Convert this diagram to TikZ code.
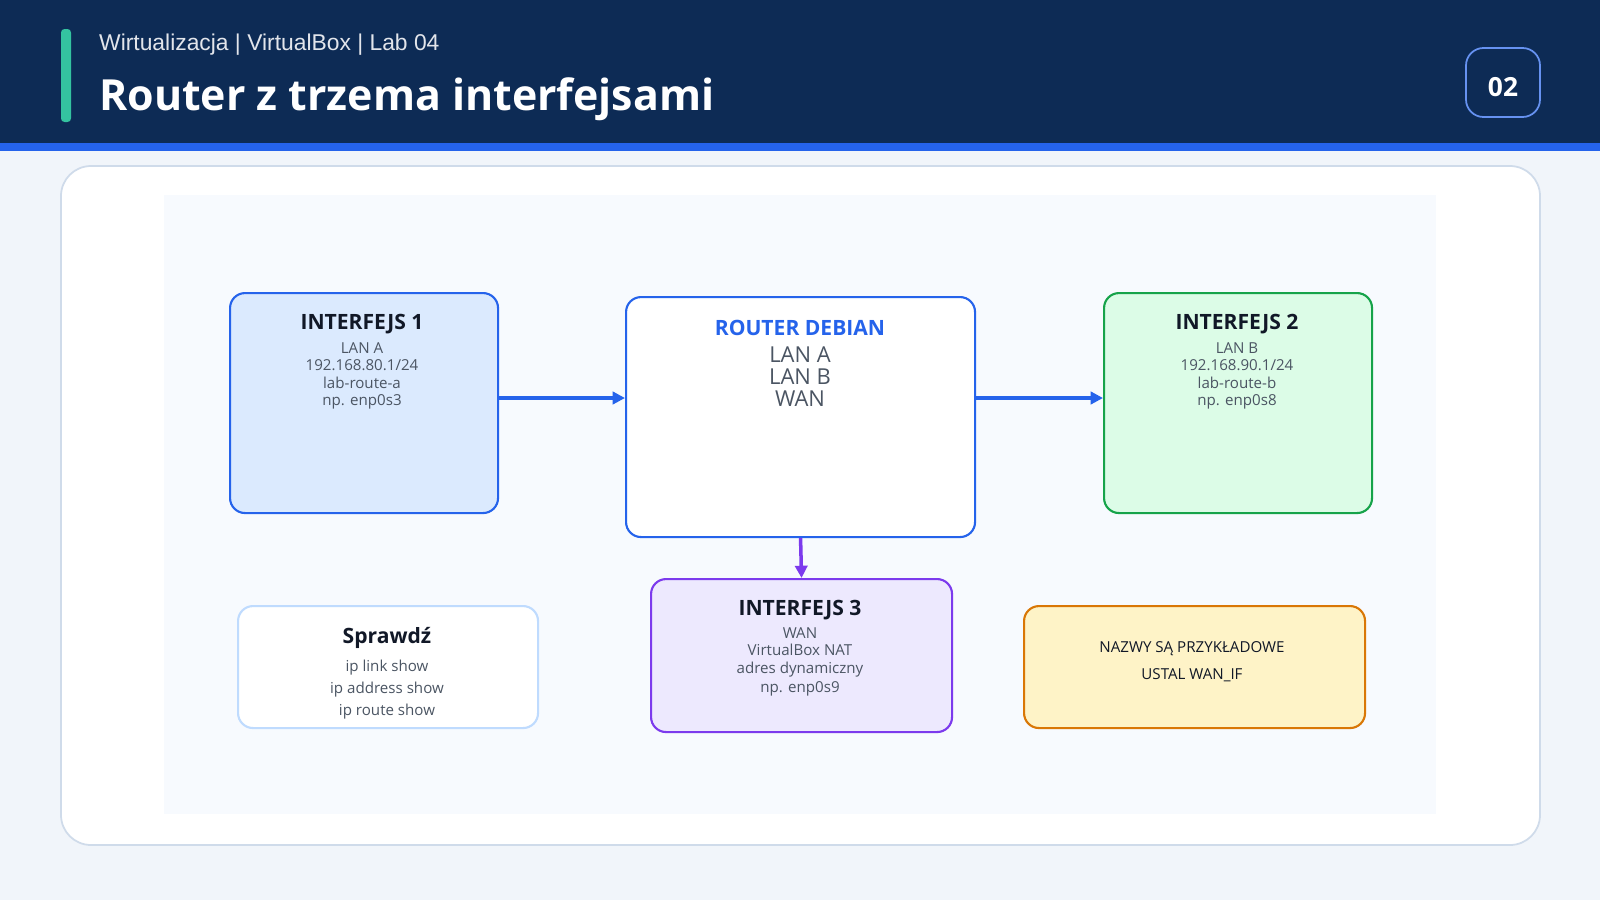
\documentclass[tikz,border=0pt]{standalone}
\usepackage{fontspec}
\setmainfont{Open Sans}
\newfontfamily\arialf{Liberation Sans}
\usetikzlibrary{arrows.meta}
\definecolor{navy}{HTML}{0D2B55}
\definecolor{bgc}{HTML}{F1F5FA}
\definecolor{blu}{HTML}{2563EB}
\definecolor{txt}{HTML}{111827}
\definecolor{gry}{HTML}{4B5563}
\definecolor{teal1}{HTML}{34C3A0}
\definecolor{cardb}{HTML}{CFDBEA}
\definecolor{panel}{HTML}{F7FAFE}
\definecolor{lblue}{HTML}{DBEAFE}
\definecolor{grn}{HTML}{16A34A}
\definecolor{lgrn}{HTML}{DCFCE7}
\definecolor{pur}{HTML}{7C3AED}
\definecolor{lpur}{HTML}{EDE9FE}
\definecolor{pblue}{HTML}{BFDBFE}
\definecolor{orn}{HTML}{D97706}
\definecolor{lyel}{HTML}{FEF3C7}
\begin{document}
\begin{tikzpicture}[x=0.02cm,y=-0.02cm,
 box/.style={draw,rounded corners=0.3cm,line width=1.2pt,anchor=north west,inner sep=0pt},
 ttl/.style={font=\fontsize{12}{14}\selectfont\bfseries,text=txt},
 sm/.style={font=\fontsize{8.6}{10}\selectfont,text=gry,align=center},
 arr/.style={line width=2pt,-{Triangle[length=7pt,width=7pt]}}]
\useasboundingbox (0,0) rectangle (1600,900);
\fill[bgc] (0,0) rectangle (1600,900);
\fill[navy] (0,0) rectangle (1600,143);
\fill[blu] (0,143) rectangle (1600,151);
\fill[teal1,rounded corners=2pt] (61,29) rectangle (71,122);
\node[anchor=west,text=white!88!navy,font=\arialf\fontsize{13}{15}\selectfont] (sub) at (93,45) {Wirtualizacja | VirtualBox | Lab 04};
\node[anchor=west,text=white,font=\fontsize{24.4}{30}\selectfont\bfseries] (title) at (93,99) {Router z trzema interfejsami};
\draw[draw=blu!70!white,fill=navy,rounded corners=0.35cm,line width=1pt] (1466,48) rectangle (1540,117);
\node[text=white,font=\fontsize{15}{17}\selectfont\bfseries] (badge) at (1503,87) {02};
\draw[draw=cardb,fill=white,rounded corners=0.6cm,line width=1pt] (61,166) rectangle (1540,845);
\fill[panel] (164,195) rectangle (1436,814);
% boxes
\node[box,draw=blu,fill=lblue,minimum width=268*0.02cm,minimum height=220*0.02cm] (i1) at (229,292) {};
\node[box,draw=blu,fill=white,minimum width=349*0.02cm,minimum height=240*0.02cm] (r) at (625,296) {};
\node[box,draw=grn,fill=lgrn,minimum width=268*0.02cm,minimum height=220*0.02cm] (i2) at (1103,292) {};
\node[box,draw=pur,fill=lpur,minimum width=301*0.02cm,minimum height=153*0.02cm] (i3) at (650,578) {};
\node[box,draw=pblue,fill=white,minimum width=300*0.02cm,minimum height=122*0.02cm] (s) at (237,605) {};
\node[box,draw=orn,fill=lyel,minimum width=341*0.02cm,minimum height=122*0.02cm] (n) at (1023,605) {};
% texts
\node[ttl] (t1) at (362,324) {INTERFEJS 1};
\node[sm,anchor=north] (d1) at (362,336) {LAN A\\192.168.80.1/24\\lab-route-a\\np. enp0s3};
\node[ttl,text=blu] (tr) at (800,328) {ROUTER DEBIAN};
\node[anchor=north,align=center,text=gry,font=\fontsize{12.5}{12.5}\selectfont] (dr) at (800,341) {LAN A\\LAN B\\WAN};
\node[ttl] (t2) at (1237,324) {INTERFEJS 2};
\node[sm,anchor=north] (d2) at (1237,336) {LAN B\\192.168.90.1/24\\lab-route-b\\np. enp0s8};
\node[ttl] (t3) at (800,610) {INTERFEJS 3};
\node[sm,anchor=north] (d3) at (800,621) {WAN\\VirtualBox NAT\\adres dynamiczny\\[1pt]np. enp0s9};
\node[ttl] (ts) at (387,638) {Sprawdź};
\node[sm,anchor=north,font=\fontsize{8.6}{12.5}\selectfont] (ds) at (387,654) {ip link show\\ip address show\\ip route show};
\node[sm,text=txt,font=\fontsize{8.6}{15.5}\selectfont] (dn) at (1192,662) {NAZWY SĄ PRZYKŁADOWE\\USTAL WAN\_IF};
% arrows
\draw[arr,blu] (i1.east |- 0,398) -- (r.west |- 0,398);
\draw[arr,blu] (r.east |- 0,398) -- (i2.west |- 0,398);
\draw[arr,pur] (r.south) -- (i3.north);
\end{tikzpicture}
\end{document}
